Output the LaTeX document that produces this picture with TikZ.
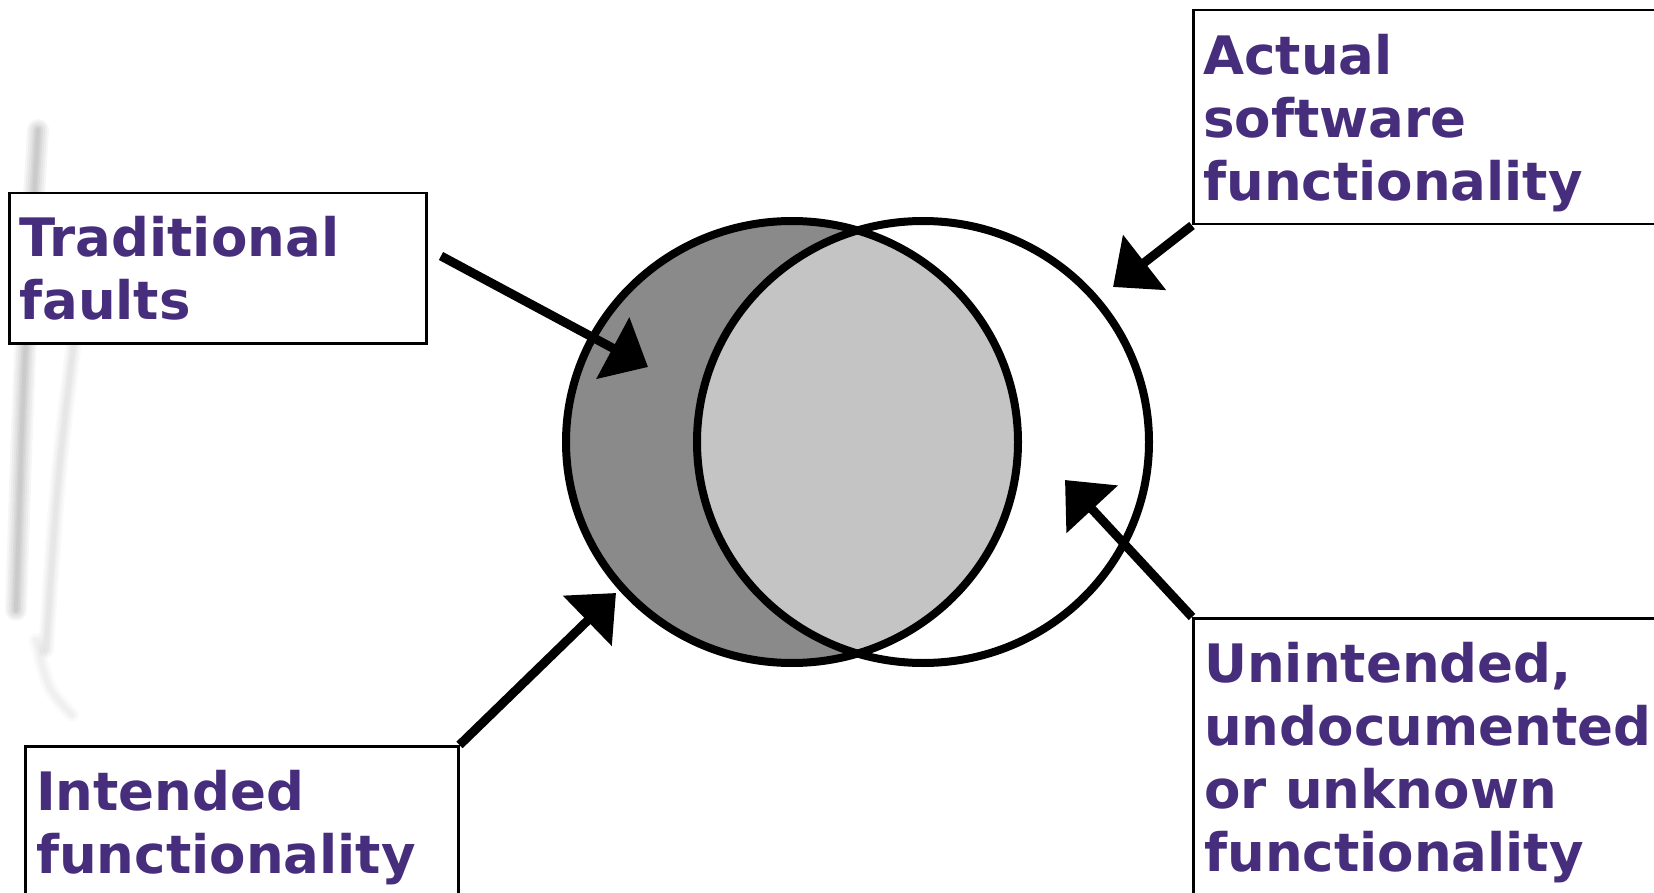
\documentclass[tikz,border=0pt]{standalone}
\usepackage{fontspec}
\newfontfamily\lblfont{DejaVu Sans}
\usetikzlibrary{arrows.meta}
\definecolor{txtpurple}{RGB}{71,46,125}
\definecolor{darkfill}{RGB}{138,138,138}
\definecolor{lightfill}{RGB}{196,196,196}
\begin{document}
\begin{tikzpicture}[x=1pt,y=-1pt,
  box/.style={draw=black, line width=2.5pt, fill=white, inner sep=0pt, anchor=north west},
  lbl/.style={anchor=base west, inner sep=0pt, text=txtpurple,
              font=\lblfont\bfseries\fontsize{53}{63}\selectfont},
  pointer/.style={line width=9pt, -{Triangle[length=40pt,width=68pt]}},
  ring/.style={line width=8pt},
  streak/.style={line cap=round, draw=black, opacity=0.035}]
\useasboundingbox (0,0) rectangle (1654,893);
\fill[white] (0,0) rectangle (1654,893);
\clip (0,0) rectangle (1654,893);

% faint, soft background streaks on the left
\foreach \w in {22,18,14,10,7,4} {
  \draw[streak, line width=\w pt] (38,130) .. controls (24,360) .. (16,610);
}
\foreach \w in {16,12,8,5} {
  \draw[streak, opacity=0.025, line width=\w pt] (78,310) .. controls (58,470) .. (46,650);
}
\foreach \w in {14,9,5} {
  \draw[streak, opacity=0.02, line width=\w pt] (36,640) .. controls (48,690) .. (72,715);
}

% Venn circles
\coordinate (cl) at (792,442);
\coordinate (cr) at (923,442);
\fill[darkfill] (cl) ellipse [x radius=226pt, y radius=221pt];
\begin{scope}
  \clip (cl) ellipse [x radius=226pt, y radius=221pt];
  \fill[lightfill] (cr) ellipse [x radius=226pt, y radius=221pt];
\end{scope}
\draw[ring] (cl) ellipse [x radius=226pt, y radius=221pt];
\draw[ring] (cr) ellipse [x radius=226pt, y radius=221pt];

% boxes
\node[box, minimum width=417pt, minimum height=150pt] (tf) at (8,192) {};
\node[box, minimum width=500pt, minimum height=214pt] (as) at (1192,9) {};
\node[box, minimum width=433pt, minimum height=200pt] (if) at (24,745) {};
\node[box, minimum width=500pt, minimum height=330pt] (uu) at (1192,617) {};

% labels
\node[lbl] (tft) at (19,257) {\begin{tabular}[t]{@{}l@{}}Traditional\\faults\end{tabular}};
\node[lbl] (ast) at (1203,75) {\begin{tabular}[t]{@{}l@{}}Actual\\software\\functionality\end{tabular}};
\node[lbl] (ift) at (36,810) {\begin{tabular}[t]{@{}l@{}}Intended\\functionality\end{tabular}};
\node[lbl] (uut) at (1204,682) {\begin{tabular}[t]{@{}l@{}}Unintended,\\undocumented\\or unknown\\functionality\end{tabular}};

% arrows
\coordinate (tfs) at (441,256);
\coordinate (tftip) at (648,367);
\coordinate (astip) at (1113,287);
\coordinate (iftip) at (616,593);
\coordinate (uutip) at (1065,480);
\draw[pointer] (tfs) -- (tftip);
\draw[pointer] (as.south west) -- (astip);
\draw[pointer] (if.north east) -- (iftip);
\draw[pointer] (uu.north west) -- (uutip);
\end{tikzpicture}
\end{document}
